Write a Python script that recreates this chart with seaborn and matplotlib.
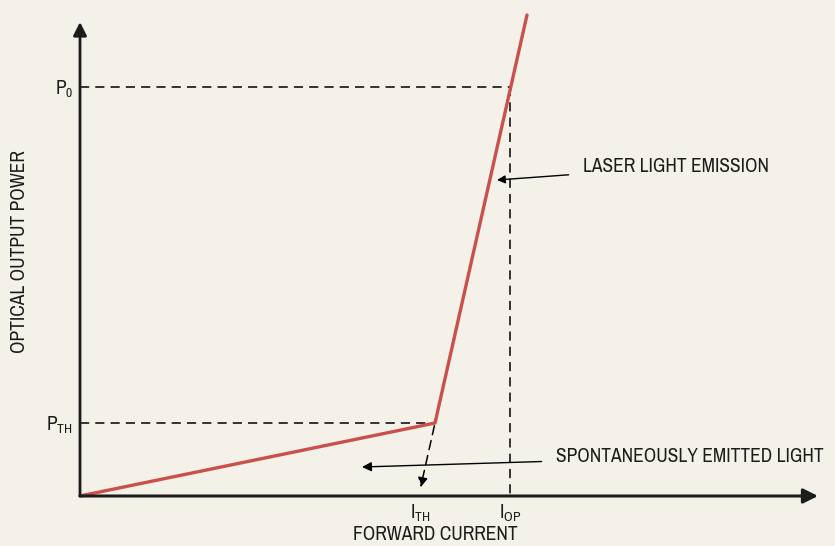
import matplotlib
matplotlib.use("Agg")
import matplotlib.pyplot as plt
import seaborn as sns
import pandas as pd

# laser diode L-I curve (arbitrary units)
current = [0.0, 35.5, 44.7]
power = [0.0, 7.3, 48.1]
i_th, i_op = 34.0, 43.0
p_th, p_0 = 7.3, 40.9
knee = (35.5, 7.3)
x_end, y_end = 73.8, 47.4

sns.set_style("white")
main_font = "Archivo Narrow"
plt.rcParams["font.family"] = [main_font, "DejaVu Sans"]
plt.rcParams["mathtext.fontset"] = "custom"
plt.rcParams["mathtext.rm"] = main_font
plt.rcParams["mathtext.it"] = main_font

bg = "#f4f1e9"
red = "#c9504b"
ink = "#1c1c1c"
fs = 14

fig = plt.figure(figsize=(8.35, 5.46), dpi=100, facecolor=bg)
ax = fig.add_axes([0, 0, 1, 1], facecolor=bg)
ax.set_xlim(-8, 75.5)
ax.set_ylim(-5, 49.6)

df = pd.DataFrame({"current": current, "power": power})
sns.lineplot(data=df, x="current", y="power", color=red, lw=2.4, ax=ax, zorder=3)

dash = (0, (6, 4))
ax.plot([0, knee[0]], [p_th, p_th], color="k", lw=1.1, ls=dash)
ax.plot([0, i_op], [p_0, p_0], color="k", lw=1.1, ls=dash)
ax.plot([i_op, i_op], [p_0, 0], color="k", lw=1.1, ls=dash)
ax.annotate("", xy=(i_th, 0.6), xytext=knee,
            arrowprops=dict(arrowstyle="-|>", color="k", lw=1.1, ls=dash, mutation_scale=14))

# axes with arrows
ax.annotate("", xy=(x_end, 0), xytext=(0, 0),
            arrowprops=dict(arrowstyle="-|>", color=ink, lw=2.2, mutation_scale=22, shrinkA=0, shrinkB=0))
ax.annotate("", xy=(0, y_end), xytext=(0, 0),
            arrowprops=dict(arrowstyle="-|>", color=ink, lw=2.0, mutation_scale=20, shrinkA=0, shrinkB=0))

for s in ax.spines.values():
    s.set_visible(False)
ax.spines["left"].set_position(("data", 0))
ax.spines["bottom"].set_position(("data", 0))
ax.set_xticks([i_th, i_op], [r"$\mathrm{I_{TH}}$", r"$\mathrm{I_{OP}}$"])
ax.set_yticks([p_th, p_0], [r"$\mathrm{P_{TH}}$", r"$\mathrm{P_0}$"])
ax.tick_params(length=0, labelsize=fs, pad=5, colors=ink)
ax.set_xlabel("")
ax.set_ylabel("")

ax.annotate("LASER LIGHT EMISSION", xy=(41.7, 31.6), xytext=(50.3, 32.9),
            fontsize=fs, va="center", color=ink,
            arrowprops=dict(arrowstyle="-|>", color="k", lw=1.0, mutation_scale=12, shrinkA=8, shrinkB=0))
ax.annotate("SPONTANEOUSLY EMITTED LIGHT", xy=(28.2, 2.9), xytext=(47.6, 3.9),
            fontsize=fs, va="center", color=ink,
            arrowprops=dict(arrowstyle="-|>", color="k", lw=1.0, mutation_scale=14, shrinkA=8, shrinkB=0))

fig.text(435 / 835, 1 - 535 / 546, "FORWARD CURRENT", ha="center", va="center", fontsize=fs, color=ink)
fig.text(20 / 835, 1 - 252 / 546, "OPTICAL OUTPUT POWER", ha="center", va="center",
         rotation=90, fontsize=fs, color=ink)

fig.savefig("out.png", dpi=100, facecolor=bg)
